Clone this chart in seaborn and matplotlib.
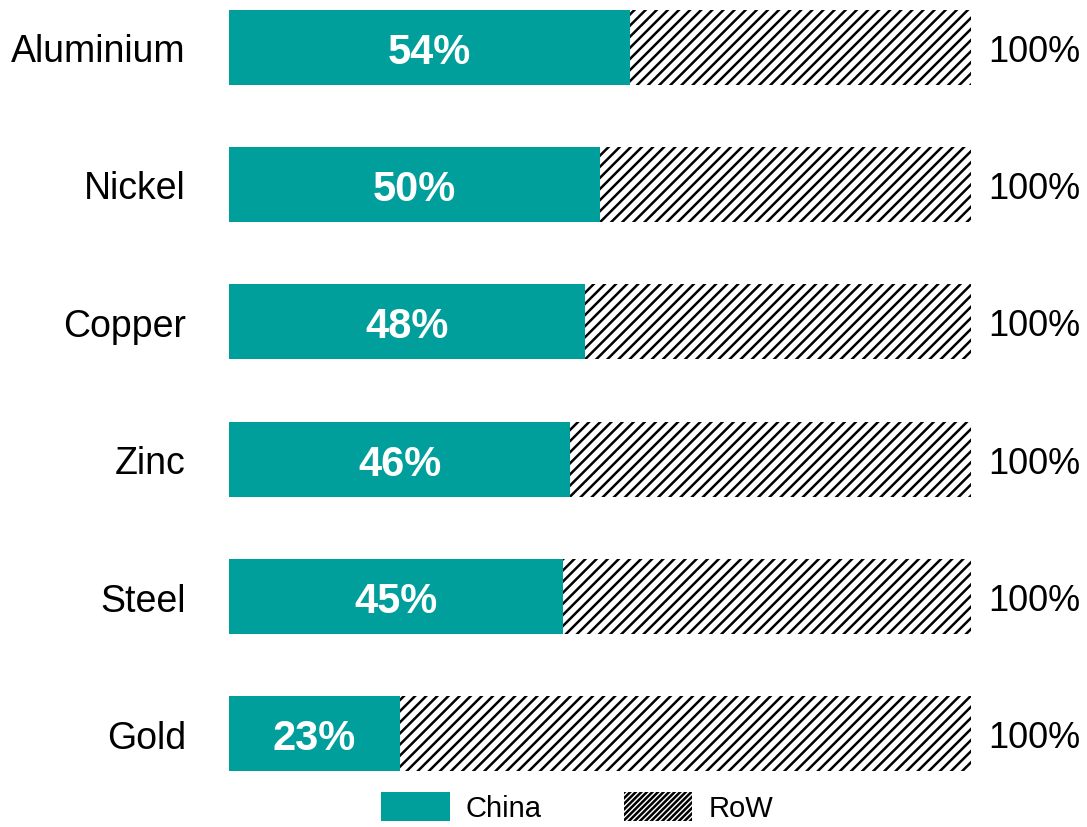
import matplotlib
matplotlib.use("Agg")
import matplotlib.pyplot as plt
import matplotlib.patches as mpatches
import seaborn as sns
import pandas as pd

metals = ["Aluminium", "Nickel", "Copper", "Zinc", "Steel", "Gold"]
china_share = [54, 50, 48, 46, 45, 23]
total_share = [100, 100, 100, 100, 100, 100]

teal = "#009F9C"

sns.set_theme(style="white")
plt.rcParams["font.family"] = ["Liberation Sans", "DejaVu Sans"]
plt.rcParams["hatch.linewidth"] = 1.8
plt.rcParams["text.color"] = "black"

df = pd.DataFrame({"metal": metals, "china": china_share, "total": total_share})

fig = plt.figure(figsize=(10.87, 8.28), dpi=100)
ax = fig.add_axes([229 / 1087, 1 - 783 / 828, (971 - 229) / 1087, 783 / 828])

# Rest of world: full-width hatched bar behind the China share
sns.barplot(data=df, x="total", y="metal", orient="h", ax=ax, color="white",
            edgecolor="black", linewidth=0, hatch="///", width=0.545,
            saturation=1)
# China share on top
sns.barplot(data=df, x="china", y="metal", orient="h", ax=ax, color=teal,
            linewidth=0, width=0.545, saturation=1)

ax.set_xlim(0, 100)
ax.set_ylim(5.35, -0.35)
ax.set_xlabel("")
ax.set_ylabel("")
ax.set_xticks([])
ax.tick_params(axis="y", length=0, pad=31, labelsize=27, labelcolor="black")
for s in ax.spines.values():
    s.set_visible(False)

for i, (c, t) in enumerate(zip(china_share, total_share)):
    ax.text(c / 2, i, f"{c}%", ha="center", va="center_baseline", color="white",
            fontsize=30, fontweight="bold")
    ax.text(t + 2.3, i, f"{t}%", ha="left", va="center_baseline", color="black",
            fontsize=26)

handles = [
    mpatches.Patch(facecolor=teal, edgecolor=teal, linewidth=0, label="China"),
    mpatches.Patch(facecolor="white", edgecolor="black", linewidth=0,
                   hatch="//////", label="RoW"),
]
fig.legend(handles=handles, loc="lower center", bbox_to_anchor=(0.531, -0.026),
           ncol=2, frameon=False, fontsize=21, handlelength=2.35,
           handleheight=1.14, columnspacing=2.8, handletextpad=0.55)

fig.savefig("out.png", dpi=100)
